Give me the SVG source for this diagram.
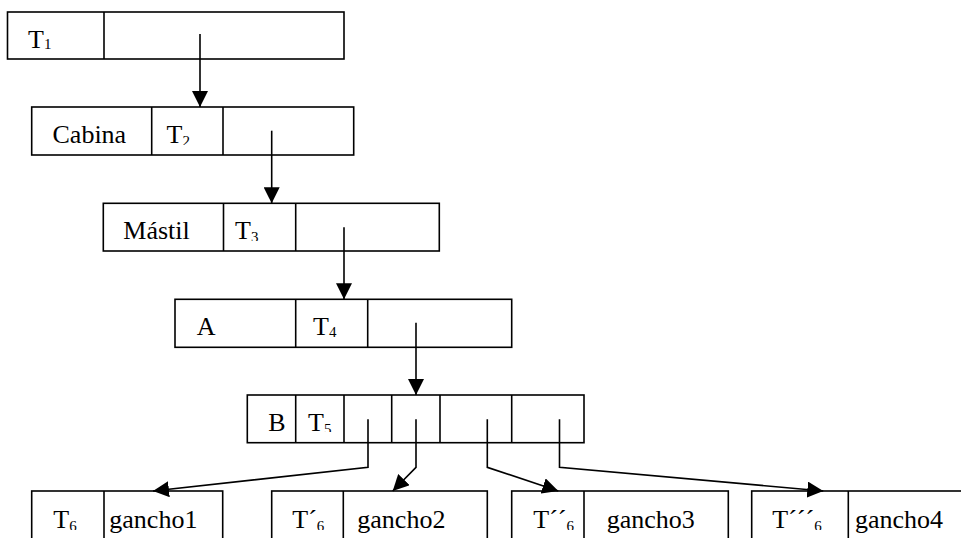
<svg xmlns="http://www.w3.org/2000/svg" width="961" height="538" viewBox="0 0 961 538">
  <defs>
    <style>
      .box { fill: #fff; stroke: #000; stroke-width: 1.6; }
      .div { stroke: #000; stroke-width: 1.6; }
      .lbl { font-family: 'Liberation Serif', 'Times New Roman', Times, 'DejaVu Serif', serif; font-size: 26px; fill: #000; }
      .sub { font-size: 15px; }
      .wire { fill: none; stroke: #000; stroke-width: 1.6; marker-end: url(#head); }
    </style>
    <marker id="head" markerUnits="userSpaceOnUse" markerWidth="16" markerHeight="16" viewBox="0 0 16 16" refX="16" refY="8" orient="auto">
      <path d="M0,0 L16,8 L0,16 z" fill="#000"/>
    </marker>
    <!-- text-box clipping that trims the lowered index digits -->
    <clipPath id="cut2" clipPathUnits="userSpaceOnUse"><rect x="0" y="100" width="961" height="45"/></clipPath>
    <clipPath id="cut3" clipPathUnits="userSpaceOnUse"><rect x="0" y="200" width="961" height="41"/></clipPath>
    <clipPath id="cut5" clipPathUnits="userSpaceOnUse"><rect x="0" y="390" width="961" height="42"/></clipPath>
    <clipPath id="cut6" clipPathUnits="userSpaceOnUse"><rect x="0" y="490" width="961" height="40"/></clipPath>
  </defs>

  <rect width="961" height="538" fill="#fff"/>

  <!-- level 1 -->
  <g id="node-t1">
    <rect class="box" x="7.5" y="12" width="336.5" height="47"/>
    <line class="div" x1="104" y1="12" x2="104" y2="59"/>
    <text class="lbl" font-family="Liberation Serif, serif" x="28" y="47.5">T<tspan class="sub" dy="1">1</tspan></text>
  </g>

  <!-- level 2 -->
  <g id="node-cabina">
    <rect class="box" x="31.7" y="107" width="322" height="48"/>
    <line class="div" x1="151.7" y1="107" x2="151.7" y2="155"/>
    <line class="div" x1="223" y1="107" x2="223" y2="155"/>
    <text class="lbl" x="52.5" y="143.3">Cabina</text>
    <text class="lbl" x="166.5" y="143.3" clip-path="url(#cut2)">T<tspan class="sub" dy="3">2</tspan></text>
  </g>

  <!-- level 3 -->
  <g id="node-mastil">
    <rect class="box" x="103.3" y="203.3" width="336" height="47.7"/>
    <line class="div" x1="223.5" y1="203.3" x2="223.5" y2="251"/>
    <line class="div" x1="295.7" y1="203.3" x2="295.7" y2="251"/>
    <text class="lbl" x="123.3" y="238.8">Mástil</text>
    <text class="lbl" x="235" y="238.8" clip-path="url(#cut3)">T<tspan class="sub" dy="3">3</tspan></text>
  </g>

  <!-- level 4 -->
  <g id="node-a">
    <rect class="box" x="175" y="299.3" width="336.7" height="48"/>
    <line class="div" x1="295.7" y1="299.3" x2="295.7" y2="347.3"/>
    <line class="div" x1="367.7" y1="299.3" x2="367.7" y2="347.3"/>
    <text class="lbl" x="196.7" y="335">A</text>
    <text class="lbl" x="313" y="335">T<tspan class="sub" dy="2">4</tspan></text>
  </g>

  <!-- level 5 -->
  <g id="node-b">
    <rect class="box" x="247.3" y="395" width="336.7" height="47.7"/>
    <line class="div" x1="295.7" y1="395" x2="295.7" y2="442.7"/>
    <line class="div" x1="344" y1="395" x2="344" y2="442.7"/>
    <line class="div" x1="391.7" y1="395" x2="391.7" y2="442.7"/>
    <line class="div" x1="440" y1="395" x2="440" y2="442.7"/>
    <line class="div" x1="511.7" y1="395" x2="511.7" y2="442.7"/>
    <text class="lbl" x="268.3" y="430.5">B</text>
    <text class="lbl" x="308" y="430.5" clip-path="url(#cut5)">T<tspan class="sub" dy="3">5</tspan></text>
  </g>

  <!-- hooks -->
  <g id="node-gancho1">
    <rect class="box" x="31.7" y="491" width="191" height="70"/>
    <line class="div" x1="104" y1="491" x2="104" y2="561"/>
    <text class="lbl" x="53.3" y="528.3" clip-path="url(#cut6)">T<tspan class="sub" dy="3">6</tspan></text>
    <text class="lbl" x="109.3" y="528.3">gancho1</text>
  </g>
  <g id="node-gancho2">
    <rect class="box" x="271.7" y="491" width="215.6" height="70"/>
    <line class="div" x1="343.3" y1="491" x2="343.3" y2="561"/>
    <text class="lbl" x="292.3" y="528.3" clip-path="url(#cut6)">T´<tspan class="sub" dy="3">6</tspan></text>
    <text class="lbl" x="357.3" y="528.3">gancho2</text>
  </g>
  <g id="node-gancho3">
    <rect class="box" x="511.7" y="491" width="216.6" height="70"/>
    <line class="div" x1="584" y1="491" x2="584" y2="561"/>
    <text class="lbl" x="533.3" y="528.3" clip-path="url(#cut6)">T´´<tspan class="sub" dy="3">6</tspan></text>
    <text class="lbl" x="606.7" y="528.3">gancho3</text>
  </g>
  <g id="node-gancho4">
    <rect class="box" x="751.7" y="491" width="230" height="70"/>
    <line class="div" x1="848.3" y1="491" x2="848.3" y2="561"/>
    <text class="lbl" x="772.3" y="528.3" clip-path="url(#cut6)">T´´´<tspan class="sub" dy="3">6</tspan></text>
    <text class="lbl" x="855" y="528.3">gancho4</text>
  </g>

  <!-- pointers -->
  <g id="connectors">
    <polyline class="wire" points="200,34 200,107"/>
    <polyline class="wire" points="271.7,130.7 271.7,203.3"/>
    <polyline class="wire" points="344,227.3 344,299.3"/>
    <polyline class="wire" points="416,322.7 416,395"/>
    <polyline class="wire" points="368,419.3 368,467.3 153,491"/>
    <polyline class="wire" points="416,419.3 416,467.3 392.7,491"/>
    <polyline class="wire" points="487.3,419.3 487.3,467.3 558.3,491"/>
    <polyline class="wire" points="559.5,419.3 559.5,467.3 823.3,491"/>
  </g>
</svg>
